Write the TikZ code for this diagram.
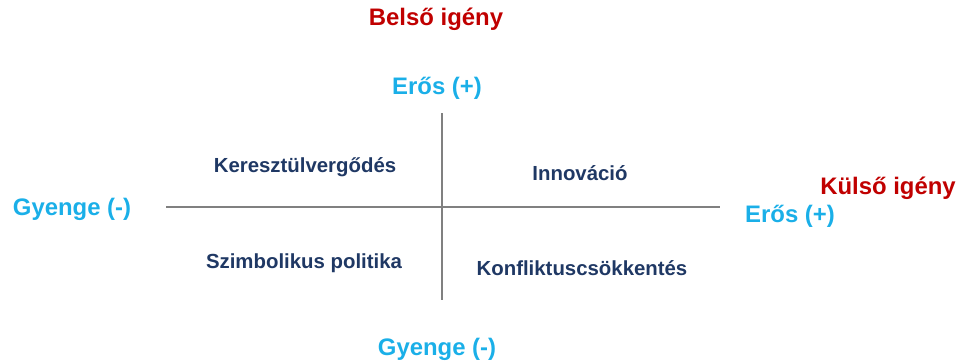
\documentclass[tikz,border=0pt]{standalone}
\usepackage{fontspec}
\setmainfont{Liberation Sans}
\definecolor{cred}{HTML}{C00000}
\definecolor{cblue}{HTML}{1AAFE8}
\definecolor{cnavy}{HTML}{1F3864}
\definecolor{cline}{HTML}{808080}
\begin{document}
\begin{tikzpicture}[x=0.02cm,y=-0.02cm,
  axislbl/.style={font=\fontsize{13.6}{16}\selectfont\bfseries, text=cred, inner sep=0pt},
  pollbl/.style={font=\fontsize{13.6}{16}\selectfont\bfseries, text=cblue, inner sep=0pt},
  quadlbl/.style={font=\fontsize{11.6}{14}\selectfont\bfseries, text=cnavy, inner sep=0pt},
  axisline/.style={draw=cline, line width=0.9pt}]
\useasboundingbox (0,0) rectangle (960,363);
\node[axislbl] (belso) at (436,19) {Belső igény};
\node[axislbl] (kulso) at (888,188) {Külső igény};
\node[pollbl] (erosT) at (437,88) {Erős (+)};
\node[pollbl] (gyengeB) at (437,349) {Gyenge (-)};
\node[pollbl] (gyengeL) at (72,209) {Gyenge (-)};
\node[pollbl] (erosR) at (790,216) {Erős (+)};
\coordinate (vtop) at (442,113);
\coordinate (vbot) at (442,300);
\coordinate (hleft) at (166,207);
\coordinate (hright) at (720,207);
\draw[axisline] (vtop) -- (vbot);
\draw[axisline] (hleft) -- (hright);
\node[quadlbl] (q1) at (305,167) {Keresztülvergődés};
\node[quadlbl] (q2) at (580,173) {Innováció};
\node[quadlbl] (q3) at (304,263) {Szimbolikus politika};
\node[quadlbl] (q4) at (582,268) {Konfliktuscsökkentés};
\end{tikzpicture}
\end{document}
